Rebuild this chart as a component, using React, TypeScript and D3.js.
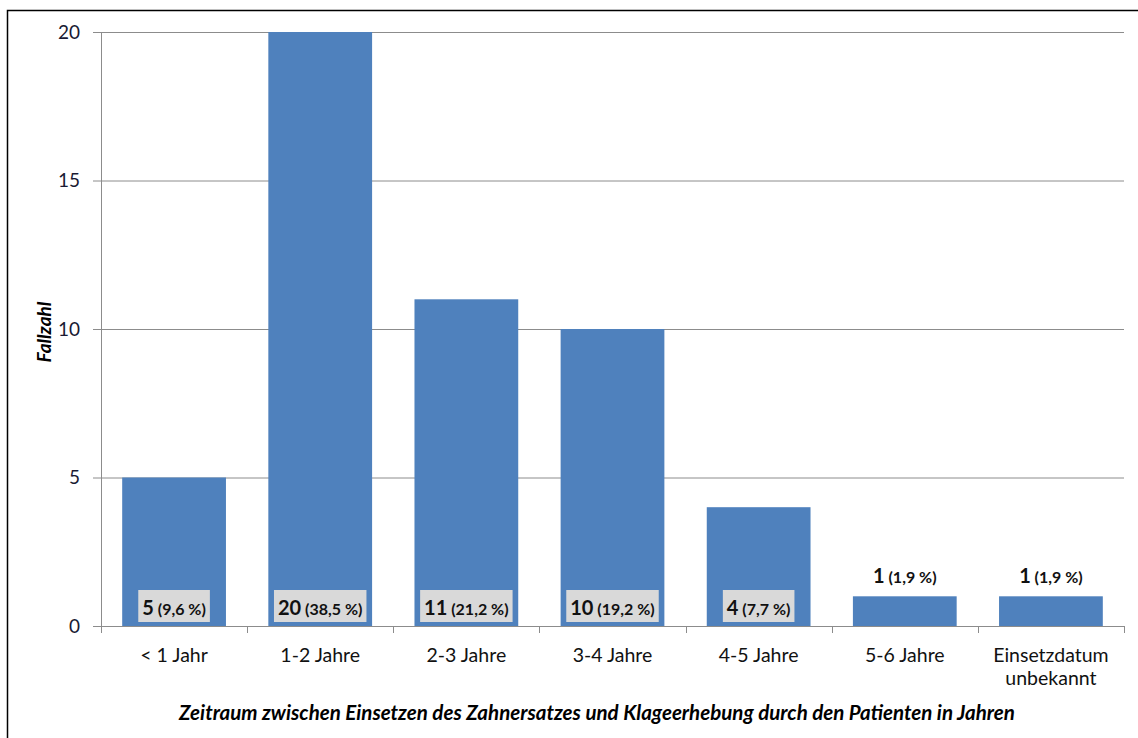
import React, { useEffect, useRef } from "react";
import * as d3 from "d3";

const categories = ["< 1 Jahr", "1-2 Jahre", "2-3 Jahre", "3-4 Jahre", "4-5 Jahre", "5-6 Jahre", "Einsetzdatum\nunbekannt"];
const values = [5, 20, 11, 10, 4, 1, 1];
const percents = ["9,6 %", "38,5 %", "21,2 %", "19,2 %", "7,7 %", "1,9 %", "1,9 %"];
const yTicks = [0, 5, 10, 15, 20];
const xTitle = "Zeitraum zwischen Einsetzen des Zahnersatzes und Klageerhebung durch den Patienten in Jahren";
const yTitle = "Fallzahl";

const W = 1138, H = 738;
const FONT = "Lato, 'Open Sans', sans-serif";

export default function App() {
  const ref = useRef<SVGSVGElement>(null);
  useEffect(() => {
    const svg = d3.select(ref.current);
    svg.selectAll("*").remove();
    const left = 101, right = 1124, top = 32, bottom = 626;
    const x = d3.scaleBand<string>().domain(categories).range([left, right]).paddingInner(0.29).paddingOuter(0.145);
    const y = d3.scaleLinear().domain([0, 20]).range([bottom, top]);

    svg.append("rect").attr("width", W).attr("height", H).attr("fill", "#fff");
    // outer frame
    svg.append("rect").attr("x", 7.5).attr("y", 10.5).attr("width", W).attr("height", H).attr("fill", "none").attr("stroke", "#000").attr("stroke-width", 1.5);

    // grid
    svg.append("g").selectAll("line").data(yTicks.filter(t => t > 0)).join("line")
      .attr("x1", left).attr("x2", right).attr("y1", d => y(d) + 0.5).attr("y2", d => y(d) + 0.5)
      .attr("stroke", "#8c8c8c").attr("stroke-width", 1);
    // y ticks
    svg.append("g").selectAll("line").data(yTicks).join("line")
      .attr("x1", left - 8).attr("x2", left).attr("y1", d => y(d) + 0.5).attr("y2", d => y(d) + 0.5)
      .attr("stroke", "#8c8c8c");
    svg.append("g").selectAll("text").data(yTicks).join("text")
      .attr("x", 80).attr("y", d => y(d)).attr("dy", "0.35em").attr("text-anchor", "end")
      .attr("font-family", FONT).attr("font-size", 19).attr("fill", "#1a1a33").text(d => d);

    // bars
    svg.append("g").selectAll("rect").data(values).join("rect")
      .attr("x", (d, i) => x(categories[i])!).attr("width", x.bandwidth())
      .attr("y", d => y(d)).attr("height", d => bottom - y(d)).attr("fill", "#4f81bd");

    // axes lines
    svg.append("line").attr("x1", left + 0.5).attr("x2", left + 0.5).attr("y1", top).attr("y2", bottom).attr("stroke", "#8c8c8c");
    svg.append("line").attr("x1", left).attr("x2", right).attr("y1", bottom + 0.5).attr("y2", bottom + 0.5).attr("stroke", "#8c8c8c");
    const step = x.step();
    const bounds = d3.range(categories.length + 1).map(i => left + i * step);
    svg.append("g").selectAll("line").data(bounds).join("line")
      .attr("x1", d => Math.round(d) + 0.5).attr("x2", d => Math.round(d) + 0.5).attr("y1", bottom).attr("y2", bottom + 7)
      .attr("stroke", "#8c8c8c");

    // x labels
    categories.forEach((c, i) => {
      const cx = x(c)! + x.bandwidth() / 2;
      const t = svg.append("text").attr("x", cx).attr("y", 662).attr("text-anchor", "middle")
        .attr("font-family", FONT).attr("font-size", 19.5).attr("fill", "#111");
      c.split("\n").forEach((line, j) => {
        t.append("tspan").attr("x", cx).attr("dy", j === 0 ? 0 : 23).text(line);
      });
    });

    // value labels
    values.forEach((v, i) => {
      const cx = x(categories[i])! + x.bandwidth() / 2;
      const inside = v >= 4;
      const g = svg.append("g");
      const ty = inside ? 615 : y(v) - 13;
      const t = g.append("text").attr("x", cx).attr("y", ty).attr("text-anchor", "middle")
        .attr("font-family", FONT).attr("font-weight", "bold").attr("fill", "#111");
      t.append("tspan").attr("font-size", 20).text(String(v));
      t.append("tspan").attr("font-size", 16).text(" (" + percents[i] + ")");
      if (inside) {
        const bb = (t.node() as SVGTextElement).getBBox();
        g.insert("rect", "text").attr("x", bb.x - 4).attr("y", 590).attr("width", bb.width + 8).attr("height", 32)
          .attr("fill", "#d9d9d9");
      }
    });

    // titles
    svg.append("text").attr("x", 597).attr("y", 720).attr("text-anchor", "middle")
      .attr("font-family", FONT).attr("font-size", 20.5).attr("font-weight", "bold").attr("font-style", "italic")
      .attr("fill", "#000").text(xTitle);
    svg.append("text").attr("transform", `translate(51, ${(top + bottom) / 2 + 3}) rotate(-90)`).attr("text-anchor", "middle")
      .attr("font-family", FONT).attr("font-size", 19).attr("font-weight", "bold").attr("font-style", "italic")
      .attr("fill", "#000").text(yTitle);
  }, []);
  return (
    <svg ref={ref} width={W} height={H} style={{ position: "absolute", left: 0, top: 0, display: "block" }} />
  );
}
